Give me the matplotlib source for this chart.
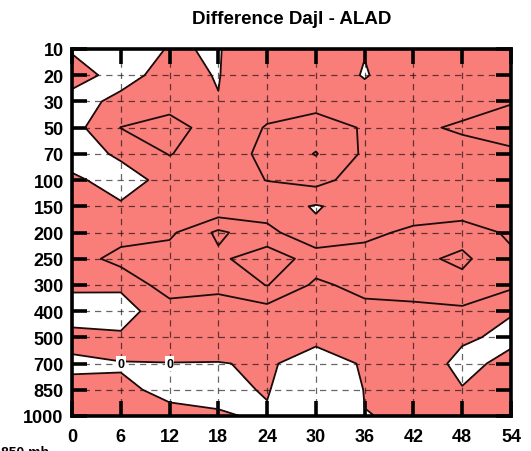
import matplotlib
matplotlib.use('Agg')
import matplotlib.pyplot as plt
import numpy as np

# forecast hours (x) and pressure levels (y, hPa)
hours = [0, 6, 12, 18, 24, 30, 36, 42, 48, 54]
level_labels = ['10', '20', '30', '50', '70', '100', '150', '200', '250',
                '300', '400', '500', '700', '850', '1000']

# difference Dajl - ALAD, one row per pressure level
p10 = [-0.065, -0.5, 0.056, -0.051, 0.68, 0.6, 0.067, 0.6, 0.6, 0.6]
p20 = [0.277, -0.236, 0.246, -0.04, 0.9, 0.9, -0.1, 0.9, 0.7, 0.7]
p30 = [-0.246, 0.157, 0.6, 0.027, 0.7, 0.6, 0.57, 0.7, 0.715, 0.959]
p50 = [-0.377, 1.02, 1.4, 0.511, 1.05, 1.5, 0.905, 0.867, 1.1, 1.3]
p70 = [-0.45, 0.15, 1.05, 0.3625, 1.3, 2.05, 0.843, 0.8, 0.73, 0.883]
p100 = [0.175, -0.39, 0.3, 0.6, 1.02, 1.37, 0.445, 0.7, 0.7, 0.7]
p150 = [0.4, 0.104, 0.84, 0.13, 0.45, -0.08, 0.45, 0.43, 0.267, 0.5]
p200 = [0.5, 0.5, 0.8, 2.2, 1.3, 0.2, 0.755, 1.2, 1.6, 0.81]
p250 = [0.424, 1.4, 1.5, 1.8, 2.6, 1.55, 1.4, 1.765, 2.2, 1.2]
p300 = [0.123, 0.12, 1.6, 1.2, 2.04, 0.817, 1.3, 1.3, 1.7, 1.2]
p400 = [-0.3, -0.3, 0.446, 0.63, 0.61, 0.6, 0.723, 0.83, 0.825, 0.08]
p500 = [0.184, 0.1, 0.48, 0.8, 0.6, 0.27, 0.5, 0.6, 0.2, -0.3]
p700 = [-0.1035, -0.009, -0.02, -0.055, 0.149, -0.5, 0.102, 0.9, -0.4, 0.4]
p850 = [0.149, 0.0175, -0.0214, -0.251, 0.075, -1.0, 0.031, 0.5, 0.07, 0.4]
p1000 = [0.3, 0.2, 0.0232, 0.088, -0.1125, -0.5, -0.0133, 0.0532, 0.3, 0.4]

fill_levels = [-10, 0, 10]
line_levels = [0, 1, 2]
fill_colors = ['white', '#f97e7a']
label_points = [(6, '700'), (12, '700')]

Z = np.array([p10, p20, p30, p50, p70, p100, p150, p200, p250, p300,
              p400, p500, p700, p850, p1000])
rows = np.arange(len(level_labels))
X, Y = np.meshgrid(hours, rows)

plt.rcParams['font.family'] = ['Liberation Sans', 'DejaVu Sans']

fig = plt.figure(figsize=(5.31, 4.52), dpi=100)
ax = fig.add_axes([72 / 531, 35 / 452, 439 / 531, 367 / 452])

ax.contourf(X, Y, Z, levels=fill_levels, colors=fill_colors, zorder=1)
ax.contour(X, Y, Z, levels=line_levels, colors='#1c0c0c', linewidths=1.3,
           zorder=3)

ax.set_xlim(hours[0], hours[-1])
ax.set_ylim(rows[-1], rows[0])
ax.set_xticks(hours)
ax.set_xticklabels([str(h) for h in hours])
ax.set_yticks(rows)
ax.set_yticklabels(level_labels)

ax.grid(True, color='black', alpha=0.6, linewidth=0.9,
        linestyle=(0, (5, 4)), zorder=2)

ax.tick_params(direction='in', length=11, width=2.6, top=True, right=True,
               labelsize=13, pad=6)
ax.tick_params(axis='x', pad=9)
for lab in ax.get_xticklabels() + ax.get_yticklabels():
    lab.set_fontweight('bold')
for sp in ax.spines.values():
    sp.set_linewidth(2.6)
    sp.set_zorder(5)

for hx, lev in label_points:
    ax.text(hx, level_labels.index(lev), '0', ha='center', va='center',
            fontsize=9, fontweight='bold', color='black', zorder=4,
            bbox=dict(boxstyle='square,pad=0.1', fc='white', ec='none'))

fig.text((72 / 531 + 511 / 531) / 2, 1 - 20 / 452,
         'Difference Dajl - ALAD', ha='center', va='center',
         fontsize=13.5, fontweight='bold')
fig.text(0.002, 6 / 452, '850 mb', ha='left', va='top', fontsize=10,
         fontweight='bold')

fig.savefig('out.png', dpi=100)
